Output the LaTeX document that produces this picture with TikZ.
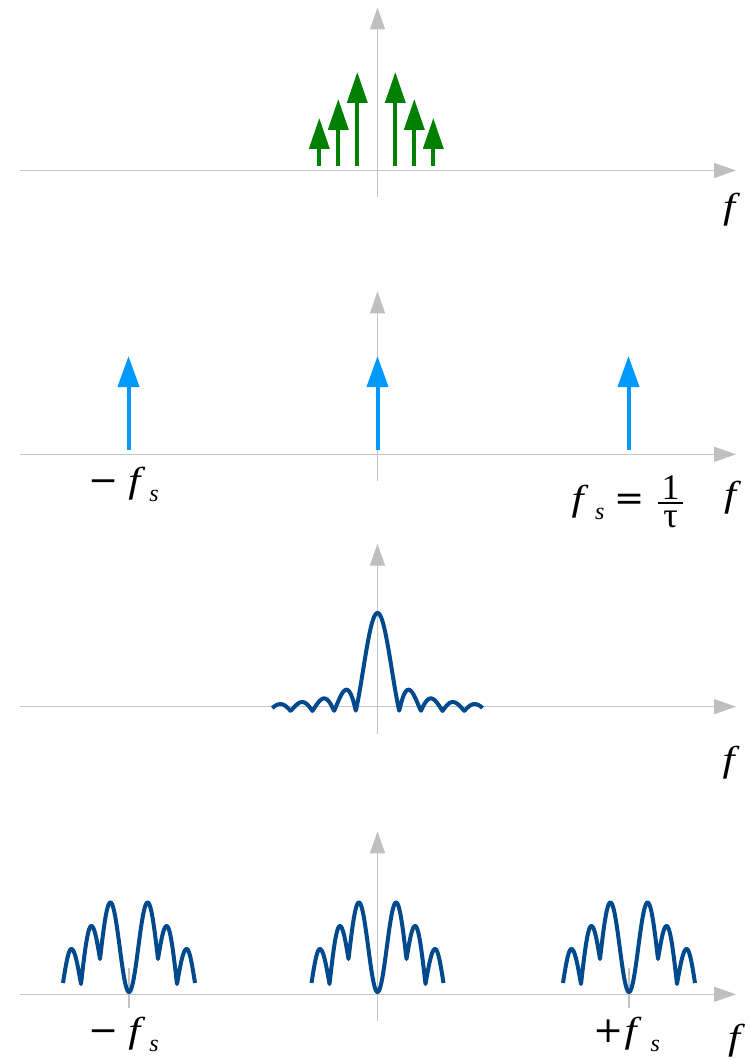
\documentclass[tikz,border=0pt]{standalone}
\usepackage{graphicx}
\usepackage{fontspec}
\newfontfamily\tms{Liberation Serif}
\newfontfamily\dvs{DejaVu Serif}
\usetikzlibrary{arrows.meta}
\definecolor{axisgray}{HTML}{C4C4C4}
\definecolor{tipgray}{HTML}{BFBFBF}
\definecolor{imp}{HTML}{008000}
\definecolor{comb}{HTML}{0099FF}
\definecolor{spec}{HTML}{00498C}
\newcommand\myfr[2]{\vbox{\halign{\hskip3.5pt\hfil##\hfil\hskip3.5pt\cr #1\cr\noalign{\kern1.75pt\hrule height 2.5pt\kern6.25pt}#2\cr}}}
\newcommand\subs[1]{\raisebox{-9pt}{\fontsize{24}{24}\selectfont\tms\itshape #1}}
\newcommand\ff{\scalebox{1.2}[1]{\tms\itshape f}}
\begin{document}
\begin{tikzpicture}[x=1pt,y=-1pt,
  axis/.style={draw=axisgray,line width=1.3pt,-{Triangle[length=22pt,width=15pt,color=tipgray]}},
  tickmark/.style={draw=axisgray,line width=1.3pt},
  imparrow/.style={draw=imp,line width=3.8pt,-{Triangle[length=31pt,width=20pt]}},
  combarrow/.style={draw=comb,line width=4pt,-{Triangle[length=31pt,width=21pt]}},
  curve/.style={draw=spec,line width=4pt,line join=round},
  lab/.style={font=\fontsize{36}{40}\selectfont\tms,inner sep=0pt},
  declare function={hb(\d)=(\d<18.6) ? 89.5*sin(90*\d/18.6)*sin(90*\d/18.6) : ((\d<29) ? 33+56.5*cos(90*(\d-18.6)/10.4) : ((\d<37.6) ? 33+33*sin(90*(\d-29)/8.6) : ((\d<48) ? 8+58*cos(90*(\d-37.6)/10.4) : ((\d<57.6) ? 8+35*sin(90*(\d-48)/9.6) : 9+34*cos(90*(\d-57.6)/8.4)))));}
]
\useasboundingbox (0,0) rectangle (749,1059);
% axes
\foreach \i/\Y in {1/170.5,2/454.3,3/706.7,4/994.3}{
  \coordinate (a\i l) at (20,\Y);
  \coordinate (a\i r) at (736,\Y);
  \coordinate (a\i b) at (377.5,\Y+27);
  \coordinate (a\i t) at (377.5,\Y-163);
  \draw[axis] (a\i l) -- (a\i r);
  \draw[axis] (a\i b) -- (a\i t);
}
% panel 1: green impulses
\foreach \n/\x/\t in {1/319.3/118,2/338.3/99,3/357.3/72,4/395.3/72,5/414.3/99,6/433.3/118}{
  \coordinate (g\n b) at (\x,166);
  \coordinate (g\n t) at (\x,\t);
  \draw[imparrow] (g\n b) -- (g\n t);
}
% panel 2: comb
\foreach \n/\x in {1/128.5,2/377.5,3/628.5}{
  \coordinate (c\n b) at (\x,449.5);
  \coordinate (c\n t) at (\x,356);
  \draw[combarrow] (c\n b) -- (c\n t);
}
% panel 3: sinc
\draw[curve] plot[domain=-4.85:4.85,samples=500] ({377.5+21.7*\x},{711-98*abs(sin(180*\x)/(pi*\x))});
% panel 4: replicated spectra
\coordinate (k1b) at (129,1008);
\coordinate (k1t) at (129,968);
\coordinate (k2b) at (629,1008);
\coordinate (k2t) at (629,968);
\draw[tickmark] (k1b) -- (k1t);
\draw[tickmark] (k2b) -- (k2t);
\foreach \c in {129,377.5,629}
  \draw[curve] plot[domain=-66:66,samples=265] ({\c+\x},{992-hb(abs(\x))});
% labels
\node[lab] (f1) at (729,210) {\ff};
\node[lab] (f2) at (730,497.5) {\ff};
\node[lab] (f3) at (728.5,762.5) {\ff};
\node[lab] (f4) at (734,1041) {\ff};
\node[lab,anchor=base west] (mfs2) at (88.2,492.5) {{\dvs −}\kern9.9pt\ff\kern9pt\subs{s}};
\node[lab,anchor=base west] (fs2) at (571.3,510.5) {\ff\kern11.7pt\subs{s}\kern9.9pt{\dvs =}\kern13.6pt\raisebox{-16.5pt}{\myfr{1}{τ}}};
\node[lab,anchor=base west] (mfs4) at (88.2,1042.5) {{\dvs −}\kern9.9pt\ff\kern9pt\subs{s}};
\node[lab,anchor=base west] (pfs4) at (593.2,1042.5) {{\dvs +}\kern1pt\ff\kern14pt\subs{s}};
\end{tikzpicture}
\end{document}
